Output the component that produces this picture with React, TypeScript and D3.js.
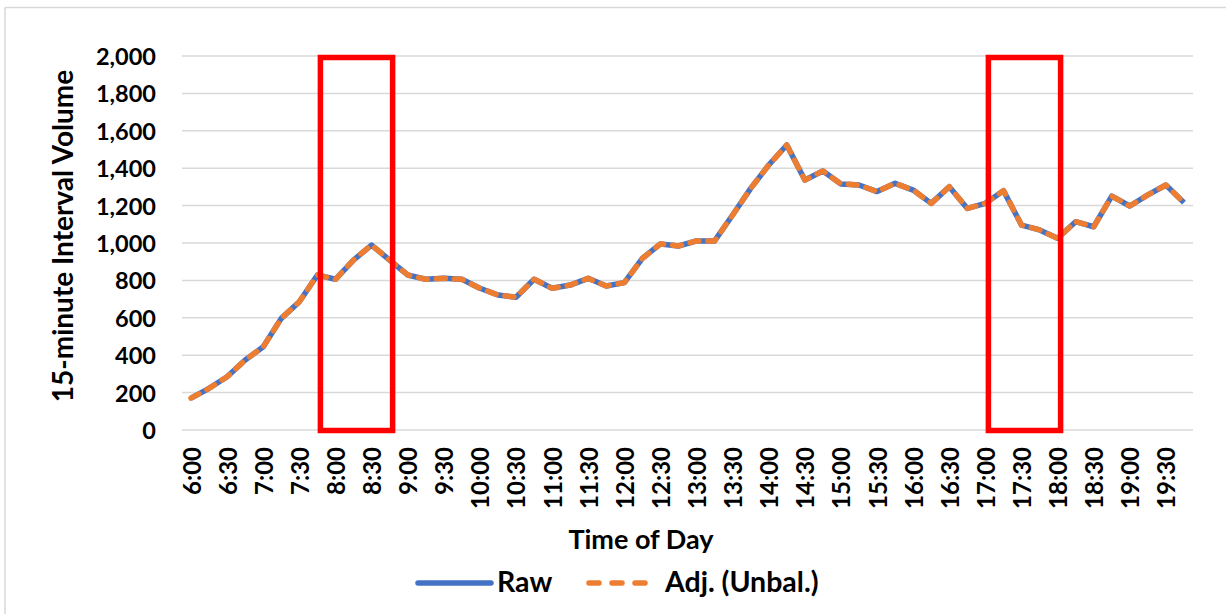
import React from 'react'
import * as d3 from 'd3'

// 15-minute bins, 6:00 to 19:45
const times = [
  '6:00', '6:15', '6:30', '6:45', '7:00', '7:15', '7:30', '7:45',
  '8:00', '8:15', '8:30', '8:45', '9:00', '9:15', '9:30', '9:45',
  '10:00', '10:15', '10:30', '10:45', '11:00', '11:15', '11:30', '11:45',
  '12:00', '12:15', '12:30', '12:45', '13:00', '13:15', '13:30', '13:45',
  '14:00', '14:15', '14:30', '14:45', '15:00', '15:15', '15:30', '15:45',
  '16:00', '16:15', '16:30', '16:45', '17:00', '17:15', '17:30', '17:45',
  '18:00', '18:15', '18:30', '18:45', '19:00', '19:15', '19:30', '19:45',
]

const rawVolume = [
  170, 223, 285, 374, 445, 597, 686, 829,
  806, 909, 989, 909, 829, 806, 811, 806,
  758, 722, 710, 806, 758, 775, 811, 770,
  788, 918, 995, 984, 1011, 1011, 1150, 1292,
  1417, 1524, 1337, 1385, 1316, 1310, 1275, 1319,
  1283, 1212, 1301, 1185, 1212, 1280, 1096, 1070,
  1025, 1114, 1087, 1251, 1198, 1257, 1310, 1216,
]

const adjVolume = [
  170, 223, 285, 374, 445, 597, 686, 829,
  806, 909, 989, 909, 829, 806, 811, 806,
  758, 722, 710, 806, 758, 775, 811, 770,
  788, 918, 995, 984, 1011, 1011, 1150, 1292,
  1417, 1524, 1337, 1385, 1316, 1310, 1275, 1319,
  1283, 1212, 1301, 1185, 1212, 1280, 1096, 1070,
  1025, 1114, 1087, 1251, 1198, 1257, 1310, 1216,
]

const yTicks = [0, 200, 400, 600, 800, 1000, 1200, 1400, 1600, 1800, 2000]

// peak windows marked with red boxes
const highlightWindows = [
  ['7:45', '8:45'],
  ['17:00', '18:00'],
]

const seriesNames = ['Raw', 'Adj. (Unbal.)']

const W = 1226
const H = 614
const margin = { left: 182, right: 33, top: 56, bottom: 184 }
const font = 'Lato, "Open Sans", sans-serif'

export default function App() {
  const x = d3
    .scaleBand()
    .domain(times)
    .range([margin.left, W - margin.right])
  const y = d3
    .scaleLinear()
    .domain([0, 2000])
    .range([H - margin.bottom, margin.top])

  const cx = (t: string) => (x(t) as number) + x.bandwidth() / 2
  const line = d3
    .line<number>()
    .x((_, i) => cx(times[i]))
    .y(d => y(d))

  const fmt = d3.format(',')

  return (
    <div style={{ position: 'fixed', left: 0, top: 0 }}>
      <svg width={W} height={H} style={{ display: 'block', background: '#fff' }}>
        {/* chart area border (only top and left edges in view) */}
        <line x1={5} x2={W} y1={7.5} y2={7.5} stroke="#d9d9d9" strokeWidth={1.5} />
        <line x1={5} x2={5} y1={7.5} y2={H} stroke="#d9d9d9" strokeWidth={1.5} />

        {/* gridlines */}
        {yTicks.map(t => (
          <line
            key={t}
            x1={margin.left}
            x2={W - margin.right}
            y1={y(t)}
            y2={y(t)}
            stroke="#d9d9d9"
            strokeWidth={1.5}
          />
        ))}

        {/* y tick labels */}
        {yTicks.map(t => (
          <text
            key={t}
            x={156}
            y={y(t)}
            textAnchor="end"
            dominantBaseline="central"
            fontFamily={font}
            fontWeight="bold"
            fontSize={23.5}
            fill="#000"
          >
            {fmt(t)}
          </text>
        ))}

        {/* x tick labels, every 30 minutes */}
        {times
          .filter((_, i) => i % 2 === 0)
          .map(t => (
            <text
              key={t}
              transform={`translate(${cx(t)},${447}) rotate(-90)`}
              textAnchor="end"
              dominantBaseline="central"
              fontFamily={font}
              fontWeight="bold"
              fontSize={24}
              fill="#000"
            >
              {t}
            </text>
          ))}

        {/* axis titles */}
        <text
          transform={`translate(62,236) rotate(-90)`}
          textAnchor="middle"
          dominantBaseline="central"
          fontFamily={font}
          fontWeight="bold"
          fontSize={28}
          fill="#000"
        >
          15-minute Interval Volume
        </text>
        <text
          x={641}
          y={549}
          textAnchor="middle"
          fontFamily={font}
          fontWeight="bold"
          fontSize={27}
          fill="#000"
        >
          Time of Day
        </text>

        {/* series */}
        <path d={line(rawVolume) || ''} fill="none" stroke="#4472c4" strokeWidth={5.5} strokeLinejoin="round" />
        <path
          d={line(adjVolume) || ''}
          fill="none"
          stroke="#ed7d31"
          strokeWidth={5.5}
          strokeDasharray="9 9"
          strokeLinecap="round"
          strokeLinejoin="round"
        />

        {/* highlight boxes */}
        {highlightWindows.map(([a, b]) => (
          <rect
            key={a}
            x={cx(a) + 3}
            y={y(2000) + 1.5}
            width={cx(b) - cx(a)}
            height={y(0) - y(2000) - 1}
            fill="none"
            stroke="#ff0000"
            strokeWidth={5.5}
          />
        ))}

        {/* legend */}
        <line x1={418} x2={491} y1={583} y2={583} stroke="#4472c4" strokeWidth={5.5} strokeLinecap="round" />
        <text x={497} y={592} fontFamily={font} fontWeight="bold" fontSize={28.5} fill="#000">
          {seriesNames[0]}
        </text>
        <line
          x1={589}
          x2={658}
          y1={583}
          y2={583}
          stroke="#ed7d31"
          strokeWidth={5.5}
          strokeDasharray="10 13"
          strokeLinecap="round"
        />
        <text x={665} y={592} fontFamily={font} fontWeight="bold" fontSize={28.5} fill="#000">
          {seriesNames[1]}
        </text>
      </svg>
    </div>
  )
}
